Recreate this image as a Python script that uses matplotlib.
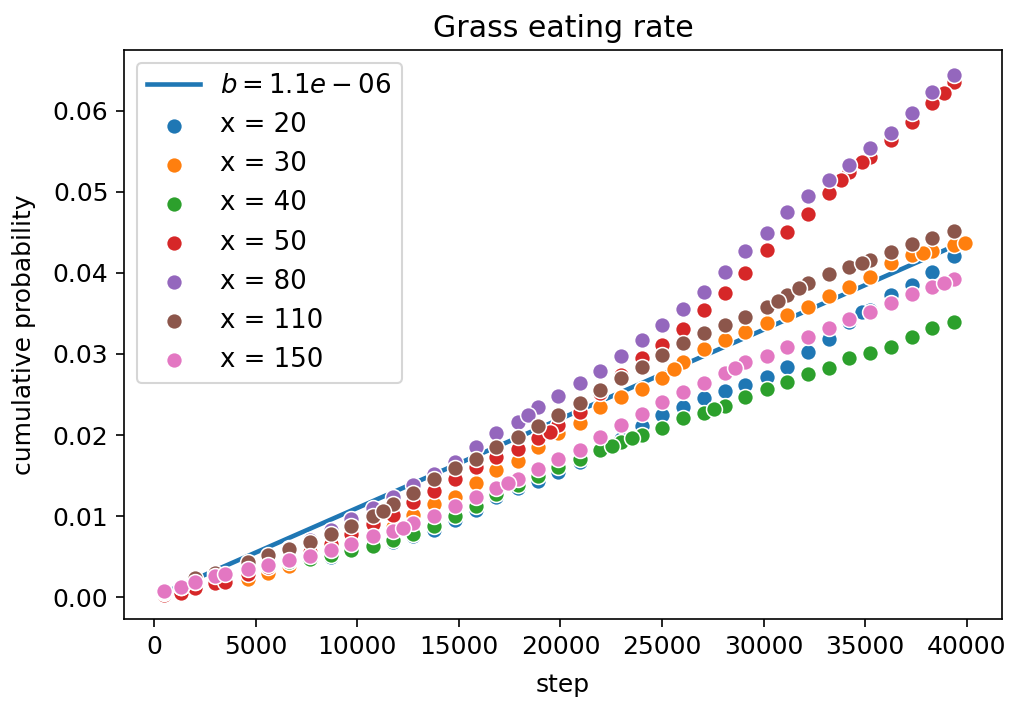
import numpy as np
import matplotlib.pyplot as plt

plt.rcParams["font.size"] = 12

# sampling steps shared by all runs
STEPS = [500, 1300, 2000, 3000, 4600, 5600, 6650, 7650, 8700, 9700,
         10750, 11750, 12750, 13800, 14800, 15850, 16850, 17900, 18900, 19900,
         20950, 21950, 23000, 24000, 25000, 26050, 27050, 28100, 29100, 30150,
         31150, 32200, 33200, 34200, 35250, 36250, 37300, 38300, 39350]

p_20 = [0.0005, 0.0010, 0.0014, 0.0020, 0.0030, 0.0038, 0.0045, 0.0048, 0.0050, 0.0058,
        0.0062, 0.0068, 0.0075, 0.0083, 0.0095, 0.0108, 0.0124, 0.0135, 0.0143, 0.0154,
        0.0167, 0.0180, 0.0195, 0.0211, 0.0225, 0.0235, 0.0246, 0.0254, 0.0262, 0.0272,
        0.0284, 0.0302, 0.0318, 0.0340, 0.0354, 0.0373, 0.0385, 0.0401, 0.0421]
p_30 = [0.0004, 0.0009, 0.0013, 0.0018, 0.0022, 0.0030, 0.0038, 0.0046, 0.0055, 0.0064,
        0.0074, 0.0087, 0.0101, 0.0115, 0.0124, 0.0141, 0.0157, 0.0168, 0.0185, 0.0202,
        0.0215, 0.0235, 0.0247, 0.0257, 0.0270, 0.0290, 0.0306, 0.0317, 0.0327, 0.0338,
        0.0348, 0.0358, 0.0372, 0.0383, 0.0395, 0.0412, 0.0422, 0.0427, 0.0435]
p_40 = [0.0005, 0.0010, 0.0016, 0.0022, 0.0033, 0.0038, 0.0043, 0.0047, 0.0052, 0.0058,
        0.0063, 0.0070, 0.0078, 0.0088, 0.0100, 0.0112, 0.0127, 0.0138, 0.0150, 0.0161,
        0.0171, 0.0181, 0.0191, 0.0200, 0.0209, 0.0221, 0.0227, 0.0236, 0.0247, 0.0257,
        0.0266, 0.0275, 0.0283, 0.0295, 0.0301, 0.0309, 0.0321, 0.0332, 0.0340]
p_50 = [0.0003, 0.0005, 0.0011, 0.0017, 0.0028, 0.0037, 0.0046, 0.0056, 0.0066, 0.0078,
        0.0090, 0.0101, 0.0117, 0.0131, 0.0146, 0.0161, 0.0173, 0.0183, 0.0196, 0.0212,
        0.0228, 0.0252, 0.0274, 0.0295, 0.0311, 0.0331, 0.0354, 0.0375, 0.0400, 0.0428,
        0.0451, 0.0473, 0.0499, 0.0525, 0.0543, 0.0564, 0.0586, 0.0609, 0.0636]
p_80 = [0.0005, 0.0012, 0.0019, 0.0028, 0.0040, 0.0050, 0.0061, 0.0071, 0.0083, 0.0096,
        0.0110, 0.0124, 0.0138, 0.0152, 0.0167, 0.0185, 0.0203, 0.0216, 0.0235, 0.0248,
        0.0264, 0.0279, 0.0297, 0.0317, 0.0336, 0.0356, 0.0377, 0.0401, 0.0427, 0.0449,
        0.0475, 0.0495, 0.0515, 0.0533, 0.0554, 0.0573, 0.0597, 0.0623, 0.0644]
p_110 = [0.0006, 0.0013, 0.0023, 0.0030, 0.0043, 0.0052, 0.0060, 0.0068, 0.0078, 0.0088,
         0.0100, 0.0115, 0.0129, 0.0146, 0.0159, 0.0171, 0.0185, 0.0198, 0.0211, 0.0225,
         0.0239, 0.0255, 0.0270, 0.0284, 0.0299, 0.0314, 0.0326, 0.0336, 0.0346, 0.0358,
         0.0373, 0.0388, 0.0399, 0.0407, 0.0416, 0.0426, 0.0436, 0.0443, 0.0452]
p_150 = [0.0007, 0.0012, 0.0019, 0.0026, 0.0035, 0.0040, 0.0046, 0.0051, 0.0058, 0.0066,
         0.0075, 0.0082, 0.0091, 0.0100, 0.0112, 0.0124, 0.0135, 0.0146, 0.0158, 0.0170,
         0.0181, 0.0198, 0.0212, 0.0226, 0.0241, 0.0253, 0.0264, 0.0276, 0.0290, 0.0298,
         0.0309, 0.0321, 0.0332, 0.0343, 0.0352, 0.0363, 0.0374, 0.0383, 0.0393]

# a few runs logged some extra steps in between
extra = {
    20: ([34850], [0.0352]),
    30: ([25600, 37850, 39900], [0.0281, 0.0425, 0.0437]),
    40: ([22550, 23500, 27550], [0.0186, 0.0196, 0.0232]),
    50: ([3500, 19500, 33800, 34850, 38900], [0.0019, 0.0204, 0.0514, 0.0537, 0.0622]),
    80: ([18400], [0.0225]),
    110: ([11250, 30700, 31750, 34850], [0.0106, 0.0365, 0.0381, 0.0412]),
    150: ([3500, 12250, 17400, 28600, 38900], [0.0029, 0.0085, 0.0141, 0.0283, 0.0388]),
}

series = [(20, p_20), (30, p_30), (40, p_40), (50, p_50),
          (80, p_80), (110, p_110), (150, p_150)]

b = 1.1e-06
fit_steps = [500, 40000]

colors = plt.rcParams["axes.prop_cycle"].by_key()["color"]

fig = plt.figure(figsize=(1010 / 150, 702 / 150), dpi=150)
ax = fig.add_axes([0.1228, 0.1182, 0.8692, 0.8106])

ax.plot(fit_steps, [b * s for s in fit_steps], color=colors[0], lw=2.2,
        label=f"$b = {b:.1e}$")

for i, (x, vals) in enumerate(series):
    st = STEPS + extra[x][0]
    vv = vals + extra[x][1]
    ax.scatter(st, vv, s=58, color=colors[i], edgecolor="white",
               linewidth=0.75, label=f"x = {x}", zorder=2)

ax.set_xlim(-1480, 41730)
ax.set_ylim(-0.0027, 0.0675)
ax.set_xticks(np.arange(0, 40001, 5000))
ax.tick_params(length=4)
ax.set_xlabel("step", labelpad=7)
ax.set_ylabel("cumulative probability", labelpad=8)
ax.set_title("Grass eating rate", fontsize=14.4)
ax.legend(loc="upper left", fontsize=12.5)

fig.savefig("out.png", dpi=150)
